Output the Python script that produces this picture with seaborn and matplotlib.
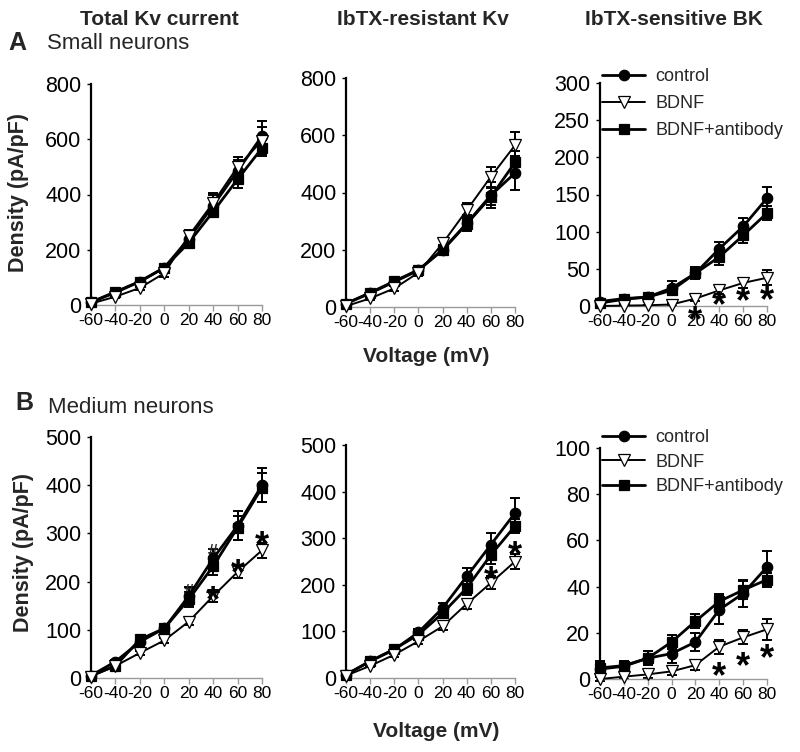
import matplotlib
matplotlib.use("Agg")
import matplotlib.pyplot as plt
from matplotlib.lines import Line2D
import seaborn as sns

sns.set_style("ticks")
plt.rcParams["font.family"] = ["Liberation Sans", "DejaVu Sans"]

# voltage steps (mV) and groups
voltage = [-60, -40, -20, 0, 20, 40, 60, 80]
groups = ["control", "BDNF", "BDNF+antibody"]

# A: small neurons -- means, rows = control, BDNF, BDNF+antibody
small_total = [[10, 45, 85, 135, 240, 360, 485, 612],
               [5, 30, 62, 115, 250, 370, 500, 595],
               [10, 48, 85, 135, 225, 338, 455, 568]]
small_total_sem = [[4, 6, 8, 10, 25, 40, 40, 55],
                   [3, 5, 8, 12, 20, 35, 35, 50],
                   [3, 6, 8, 10, 15, 20, 30, 30]]
small_resist = [[12, 48, 88, 128, 200, 292, 390, 468],
                [3, 30, 65, 120, 222, 338, 455, 565],
                [12, 50, 90, 130, 198, 290, 385, 505]]
small_resist_sem = [[4, 6, 8, 10, 15, 28, 45, 60],
                    [3, 5, 8, 10, 15, 25, 35, 45],
                    [3, 6, 8, 10, 12, 20, 30, 40]]
small_bk = [[6, 10, 12, 24, 44, 77, 107, 145],
            [0, 0.5, 1, 2, 10, 21, 31, 38],
            [4, 9, 12, 21, 44, 66, 95, 125]]
small_bk_sem = [[3, 3, 3, 9, 7, 9, 12, 15],
                [1, 1, 1, 2, 3, 5, 7, 10],
                [2, 2, 2, 5, 8, 11, 10, 9]]

# B: medium neurons
med_total = [[5, 34, 75, 103, 170, 248, 316, 400],
             [3, 25, 52, 78, 117, 170, 220, 265],
             [5, 25, 80, 103, 163, 232, 312, 395]]
med_total_sem = [[3, 4, 8, 6, 18, 20, 30, 35],
                 [2, 3, 5, 5, 8, 12, 13, 15],
                 [3, 5, 8, 6, 15, 18, 25, 30]]
med_resist = [[7, 36, 61, 98, 150, 218, 286, 354],
              [5, 26, 50, 79, 111, 159, 204, 250],
              [7, 36, 62, 93, 139, 193, 264, 326]]
med_resist_sem = [[2, 4, 5, 8, 12, 18, 25, 33],
                  [2, 3, 4, 5, 8, 10, 14, 16],
                  [2, 4, 5, 7, 10, 15, 20, 15]]
med_bk = [[4.3, 5.5, 9, 11, 16, 30, 37, 48.5],
          [0, 1, 2, 3.3, 6, 14, 18, 21.5],
          [4.8, 5.8, 9, 16, 25, 33.6, 38.5, 43]]
med_bk_sem = [[3, 2, 3, 4, 4, 6, 6, 7],
              [1, 1, 1.5, 1.5, 2, 3, 3, 4.5],
              [3, 2, 3, 3, 3, 3, 4, 3]]

# significance marks (voltage, density)
star_small_bk = [(20, -7.5), (40, 12.5), (60, 17.5), (80, 19)]
star_med_total = [(40, 179), (60, 234), (80, 293)]
hash_med_total = [(20, 182), (40, 265)]
star_med_resist = [(60, 229), (80, 282)]
star_med_bk = [(40, 4.9), (60, 9.4), (80, 12.6)]

W, H = 800, 752
fig = plt.figure(figsize=(W / 100, H / 100), dpi=100)


def px_axes(left, right, top, bottom):
    return fig.add_axes([left / W, 1 - bottom / H, (right - left) / W, (bottom - top) / H])


styles = {
    "control": dict(marker="o", markersize=7.5, markerfacecolor="black", linewidth=2.0),
    "BDNF": dict(marker="v", markersize=9, markerfacecolor="white", linewidth=1.4),
    "BDNF+antibody": dict(marker="s", markersize=7, markerfacecolor="black", linewidth=2.0),
}
draw_order = [0, 2, 1]


def panel(ax, means, sems, ymax, ystep, stars=(), hashes=()):
    for i in draw_order:
        g = groups[i]
        ax.errorbar(voltage, means[i], yerr=sems[i], fmt="none", ecolor="black",
                    elinewidth=1.4, capsize=3.5, capthick=1.4, zorder=2, clip_on=False)
        sns.lineplot(x=voltage, y=means[i], ax=ax, color="black", markeredgecolor="black",
                     markeredgewidth=0.9, errorbar=None, legend=False, clip_on=False,
                     zorder=3, **styles[g])
    for x, y in stars:
        ax.annotate("*", xy=(x, y), xytext=(0, -14), textcoords="offset points",
                    ha="center", va="baseline", fontsize=26, fontweight="bold",
                    color="black", annotation_clip=False, zorder=4)
    for x, y in hashes:
        ax.annotate("#", xy=(x, y), xytext=(0, -5), textcoords="offset points",
                    ha="center", va="baseline", fontsize=13, fontweight="bold",
                    annotation_clip=False, zorder=2.5)
    ax.set_xlim(-60, 80)
    ax.set_ylim(0, ymax)
    ax.set_xticks(voltage)
    ax.set_xticklabels([str(v) for v in voltage])
    ax.set_yticks(list(range(0, ymax + 1, ystep)))
    ax.set_xlabel("")
    ax.set_ylabel("")
    ax.spines["top"].set_visible(False)
    ax.spines["right"].set_visible(False)
    ax.spines["left"].set_linewidth(1.6)
    ax.spines["left"].set_color("black")
    ax.spines["bottom"].set_linewidth(1.0)
    ax.spines["bottom"].set_color("#9a9a9a")
    ax.tick_params(axis="x", length=4, width=1, color="#9a9a9a", pad=2,
                   labelsize=12.5, labelcolor="black")
    ax.tick_params(axis="y", length=3, width=1, color="black", pad=4,
                   labelsize=15.5, labelcolor="black")
    ax.patch.set_alpha(0)


axA1 = px_axes(91, 262, 84, 305)
axA2 = px_axes(346, 515, 78, 307)
axA3 = px_axes(600, 767, 83, 306)
axB1 = px_axes(91, 262, 437, 678)
axB2 = px_axes(346, 515, 445, 678)
axB3 = px_axes(600, 767, 448, 679)

panel(axA1, small_total, small_total_sem, 800, 200)
panel(axA2, small_resist, small_resist_sem, 800, 200)
panel(axA3, small_bk, small_bk_sem, 300, 50, stars=star_small_bk)
panel(axB1, med_total, med_total_sem, 500, 100, stars=star_med_total, hashes=hash_med_total)
panel(axB2, med_resist, med_resist_sem, 500, 100, stars=star_med_resist)
panel(axB3, med_bk, med_bk_sem, 100, 20, stars=star_med_bk)


def legend(ax, top_px, spacing):
    handles = []
    for g in groups:
        st = styles[g]
        handles.append(Line2D([], [], color="black", marker=st["marker"],
                              markersize=st["markersize"], markerfacecolor=st["markerfacecolor"],
                              markeredgecolor="black", markeredgewidth=0.9,
                              linewidth=st["linewidth"]))
    ax.legend(handles, groups, loc="upper left", bbox_to_anchor=(602 / W, 1 - top_px / H),
              bbox_transform=fig.transFigure, frameon=False, fontsize=13,
              handlelength=2.4, handletextpad=0.55, labelspacing=spacing,
              borderpad=0, borderaxespad=0)


legend(axA3, 68, 0.55)
legend(axB3, 429, 0.42)

# column titles
for x, t in [(159, "Total Kv current"), (423, "IbTX-resistant Kv"), (674, "IbTX-sensitive BK")]:
    fig.text(x / W, 1 - 25 / H, t, ha="center", va="baseline", fontsize=15, fontweight="bold")

fig.text(8 / W, 1 - 50 / H, "A", ha="left", va="baseline", fontsize=18, fontweight="bold")
fig.text(47 / W, 1 - 49 / H, "Small neurons", ha="left", va="baseline", fontsize=16)
fig.text(15 / W, 1 - 410 / H, "B", ha="left", va="baseline", fontsize=18, fontweight="bold")
fig.text(48 / W, 1 - 413 / H, "Medium neurons", ha="left", va="baseline", fontsize=16)

fig.text(426 / W, 1 - 362 / H, "Voltage (mV)", ha="center", va="baseline", fontsize=15, fontweight="bold")
fig.text(436 / W, 1 - 737 / H, "Voltage (mV)", ha="center", va="baseline", fontsize=15, fontweight="bold")

fig.text(19 / W, 1 - 192 / H, "Density (pA/pF)", ha="center", va="center", rotation=90,
         fontsize=15.5, fontweight="bold")
fig.text(24 / W, 1 - 553 / H, "Density (pA/pF)", ha="center", va="center", rotation=90,
         fontsize=15.5, fontweight="bold")

fig.savefig("out.png", dpi=100, facecolor="white")
